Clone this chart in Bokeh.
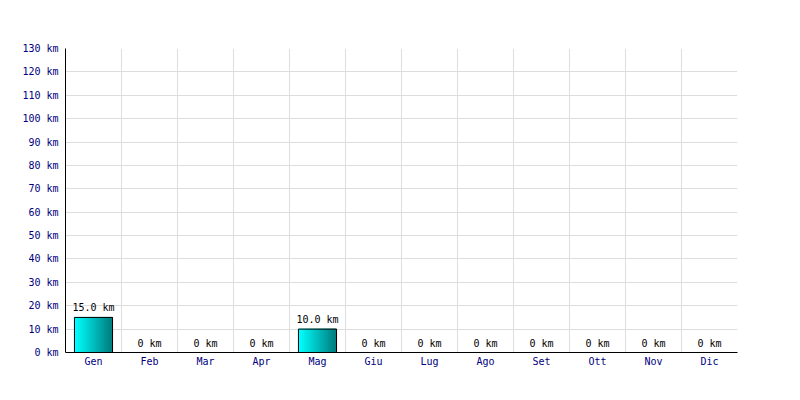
from bokeh.plotting import figure
from bokeh.models import FixedTicker, ColumnDataSource, Range1d
from bokeh.core.properties import value
from bokeh.embed import file_html
from bokeh.resources import INLINE

months = ["Gen", "Feb", "Mar", "Apr", "Mag", "Giu", "Lug", "Ago", "Set", "Ott", "Nov", "Dic"]
distance_km = [15.0, 0, 0, 0, 10.0, 0, 0, 0, 0, 0, 0, 0]
y_ticks = list(range(0, 131, 10))

FONT = "DejaVu Sans Mono"
N = len(months)
centers = [i + 0.5 for i in range(N)]
labels = [("%.1f km" % v) if v else "0 km" for v in distance_km]

p = figure(width=790, height=392, output_backend="svg", toolbar_location=None,
           x_range=Range1d(0, N), y_range=Range1d(0, 130),
           min_border_left=65, min_border_right=53, min_border_top=48, min_border_bottom=40)
p.outline_line_color = None

# gradient bars: cyan -> teal, drawn as thin slices
bar_w = 0.68
slices = 19
sw = bar_w / slices
def lerp(a, b, t):
    return int(round(a + (b - a) * t))
for k in range(slices):
    t = k / (slices - 1)
    col = "#%02x%02x%02x" % (0, lerp(255, 128, t), lerp(255, 128, t))
    xs = [c - bar_w / 2 + sw * (k + 0.5) for c in centers]
    p.vbar(x=xs, top=distance_km, width=sw, fill_color=col, line_color=col, line_width=1)
p.vbar(x=centers, top=distance_km, width=bar_w, fill_color=None, line_color="black", line_width=1)

src = ColumnDataSource(dict(x=centers, y=distance_km, t=labels))
p.text(x="x", y="y", text="t", source=src, text_align="center", text_baseline="bottom",
       y_offset=-4, text_font=value(FONT), text_font_size="10px", text_color="black")

p.xaxis.ticker = FixedTicker(ticks=centers)
p.xaxis.major_label_overrides = {c: m for c, m in zip(centers, months)}
p.yaxis.ticker = FixedTicker(ticks=y_ticks)
p.yaxis.major_label_overrides = {v: "%d km" % v for v in y_ticks}
for ax in (p.xaxis, p.yaxis):
    ax.axis_line_color = "black"
    ax.major_tick_line_color = None
    ax.minor_tick_line_color = None
    ax.major_tick_out = 0
    ax.major_tick_in = 0
    ax.major_label_text_font = FONT
    ax.major_label_text_font_size = "10px"
    ax.major_label_text_color = "#000080"
p.yaxis.major_label_standoff = 7
p.xaxis.major_label_standoff = 3

p.xgrid.ticker = FixedTicker(ticks=list(range(N + 1)))
p.ygrid.ticker = FixedTicker(ticks=y_ticks)
p.xgrid.grid_line_color = "#dddddd"
p.ygrid.grid_line_color = "#dddddd"

open("out.html", "w").write(file_html(p, INLINE))
